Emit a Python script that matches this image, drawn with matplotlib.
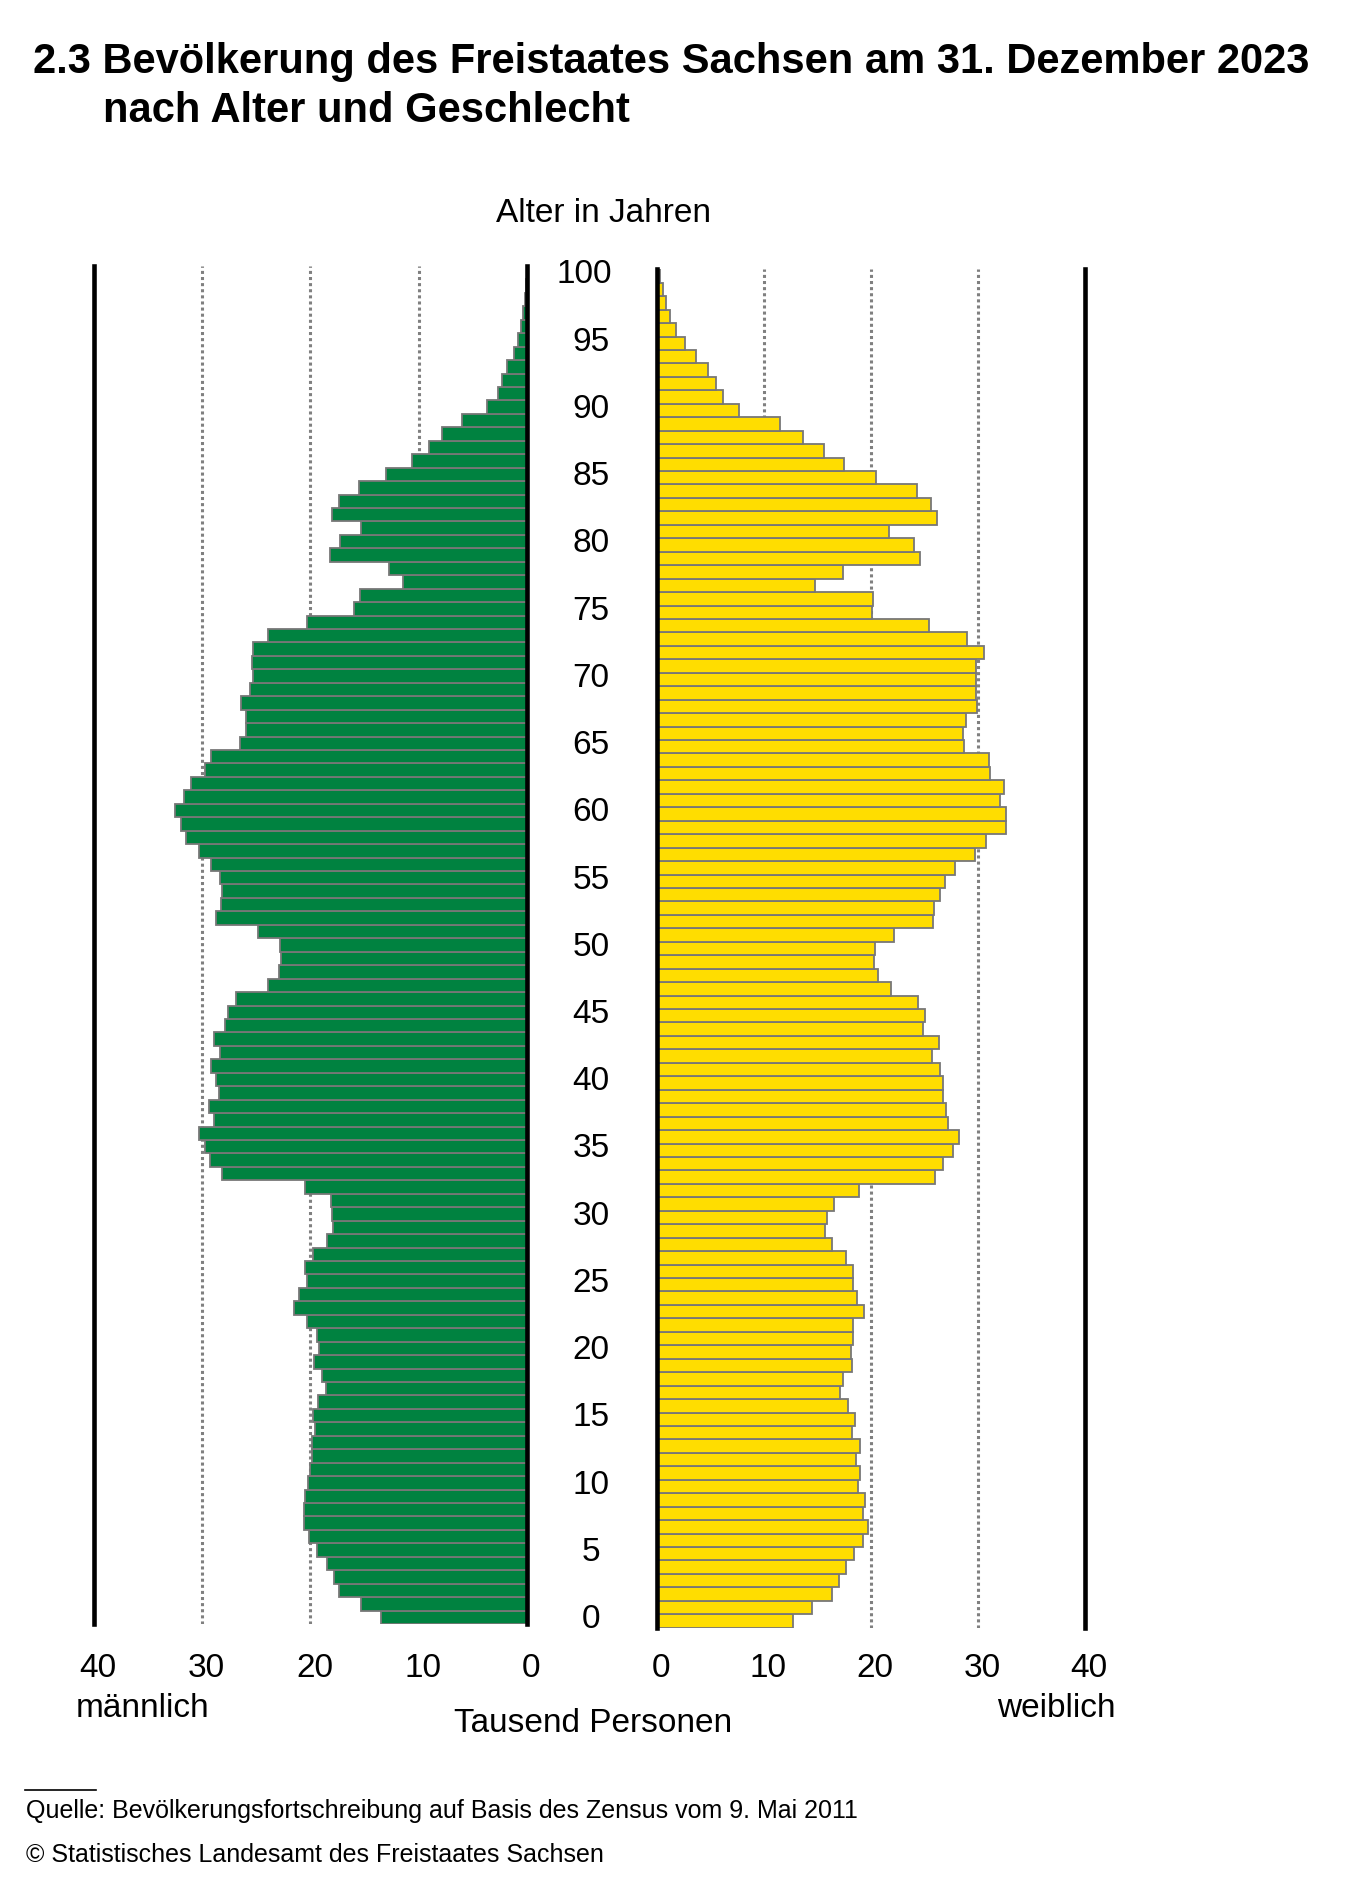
import numpy as np
import matplotlib.pyplot as plt
from matplotlib.transforms import blended_transform_factory, ScaledTranslation

plt.rcParams['font.family'] = ['Liberation Sans', 'DejaVu Sans']

W, H = 1351, 1897

# Bevoelkerung in Tausend, Alter 0..100
ages = np.arange(0, 101)
maennlich = [
    13.5, 15.3, 17.4, 17.8, 18.5, 19.4, 20.1, 20.6, 20.6, 20.5,   # 0-9
    20.2, 20.0, 19.9, 19.9, 19.6, 19.8, 19.3, 18.6, 18.9, 19.7,   # 10-19
    19.2, 19.4, 20.3, 21.5, 21.1, 20.3, 20.5, 19.8, 18.5, 17.9,   # 20-29
    18.0, 18.1, 20.5, 28.2, 29.3, 29.8, 30.3, 28.9, 29.4, 28.5,   # 30-39
    28.7, 29.2, 28.4, 28.9, 27.9, 27.6, 26.9, 23.9, 22.9, 22.7,   # 40-49
    22.8, 24.9, 28.7, 28.3, 28.2, 28.4, 29.2, 30.3, 31.5, 32.0,   # 50-59
    32.5, 31.7, 31.1, 29.8, 29.2, 26.5, 26.0, 26.0, 26.4, 25.6,   # 60-69
    25.3, 25.4, 25.3, 23.9, 20.3, 16.0, 15.4, 11.4, 12.7, 18.2,   # 70-79
    17.3, 15.3, 18.0, 17.4, 15.5, 13.0, 10.6, 9.0, 7.8, 6.0,      # 80-89
    3.7, 2.7, 2.3, 1.8, 1.2, 0.8, 0.5, 0.3, 0.2, 0.1, 0.0,        # 90-100
]
weiblich = [
    12.7, 14.5, 16.4, 17.0, 17.7, 18.4, 19.3, 19.7, 19.3, 19.5,   # 0-9
    18.8, 19.0, 18.6, 19.0, 18.2, 18.5, 17.9, 17.1, 17.4, 18.2,   # 10-19
    18.1, 18.3, 18.3, 19.4, 18.7, 18.3, 18.3, 17.7, 16.4, 15.7,   # 20-29
    15.9, 16.6, 18.9, 26.0, 26.7, 27.7, 28.2, 27.2, 27.0, 26.7,   # 30-39
    26.7, 26.5, 25.7, 26.4, 24.9, 25.1, 24.4, 21.9, 20.7, 20.3,   # 40-49
    20.4, 22.2, 25.8, 25.9, 26.5, 26.9, 27.9, 29.7, 30.8, 32.6,   # 50-59
    32.6, 32.1, 32.4, 31.1, 31.0, 28.7, 28.6, 28.9, 29.9, 29.8,   # 60-69
    29.8, 29.8, 30.6, 29.0, 25.4, 20.1, 20.2, 14.8, 17.4, 24.6,   # 70-79
    24.0, 21.7, 26.2, 25.6, 24.3, 20.5, 17.5, 15.6, 13.7, 11.5,   # 80-89
    7.7, 6.2, 5.5, 4.8, 3.7, 2.6, 1.8, 1.2, 0.9, 0.6, 0.3,        # 90-100
]
xticks = [0, 10, 20, 30, 40]
age_labels = list(range(0, 101, 5))

green = '#008240'
yellow = '#FFDD00'
edge = '#777777'
fs = 24


def rect(x0, x1, y_top, y_bot):
    return [x0 / W, 1 - y_bot / H, (x1 - x0) / W, (y_bot - y_top) / H]


def style_panel(ax, shift, pad):
    ax.set_ylim(-0.5, 100.5)
    ax.set_yticks([])
    for s in ['top', 'bottom']:
        ax.spines[s].set_visible(False)
    for s in ['left', 'right']:
        ax.spines[s].set_linewidth(3.3)
        ax.spines[s].set_zorder(5)
    for g in [10, 20, 30]:
        ax.axvline(g, color='0.5', lw=2.2, ls=(0, (1, 1)), zorder=0)
    ax.set_xticks(xticks)
    ax.set_xticklabels([str(t) for t in xticks], fontsize=fs)
    ax.tick_params(axis='x', length=0, pad=pad)
    # Beschriftung leicht nach rechts wie im Original
    off = ScaledTranslation(shift / 100, 0, ax.figure.dpi_scale_trans)
    for lab in ax.get_xticklabels():
        lab.set_transform(lab.get_transform() + off)


fig = plt.figure(figsize=(W / 100, H / 100), dpi=100)

ax_l = fig.add_axes(rect(94.3, 526.7, 266, 1624))
ax_l.barh(ages, maennlich, height=1.0, color=green, edgecolor=edge, linewidth=1.3)
ax_l.set_xlim(40, 0)
style_panel(ax_l, 4, 21)

ax_r = fig.add_axes(rect(656.7, 1085, 269.3, 1627.7))
ax_r.barh(ages, weiblich, height=1.0, color=yellow, edgecolor=edge, linewidth=1.3)
ax_r.set_xlim(0, 40)
style_panel(ax_r, 4, 18.5)

# Alters-Beschriftung in der Mitte
tr = blended_transform_factory(fig.transFigure, ax_l.transData)
for a in age_labels:
    xpos = 584 if a == 100 else 591
    fig.text(xpos / W, a - 0.8, str(a), transform=tr, ha='center', va='baseline',
             fontsize=fs)

fig.text(33 / W, 1 - 73 / H, '2.3 Bevölkerung des Freistaates Sachsen am 31. Dezember 2023',
         fontsize=30, fontweight='bold', ha='left', va='baseline')
fig.text(103 / W, 1 - 122 / H, 'nach Alter und Geschlecht',
         fontsize=30, fontweight='bold', ha='left', va='baseline')

fig.text(604 / W, 1 - 214 / H, 'Alter in Jahren', fontsize=fs, ha='center', va='center')
fig.text(143 / W, 1 - 1717 / H, 'männlich', fontsize=fs, ha='center', va='baseline')
fig.text(1056 / W, 1 - 1717 / H, 'weiblich', fontsize=fs, ha='center', va='baseline')
fig.text(593 / W, 1 - 1732 / H, 'Tausend Personen', fontsize=fs, ha='center', va='baseline')

fig.add_artist(plt.Line2D([25 / W, 96 / W], [1 - 1790 / H, 1 - 1790 / H], color='black', lw=1.2))
fig.text(26 / W, 1 - 1818 / H,
         'Quelle: Bevölkerungsfortschreibung auf Basis des Zensus vom 9. Mai 2011',
         fontsize=18, ha='left', va='baseline')
fig.text(26 / W, 1 - 1862 / H, '© Statistisches Landesamt des Freistaates Sachsen',
         fontsize=18, ha='left', va='baseline')

fig.savefig('out.png', dpi=100)
